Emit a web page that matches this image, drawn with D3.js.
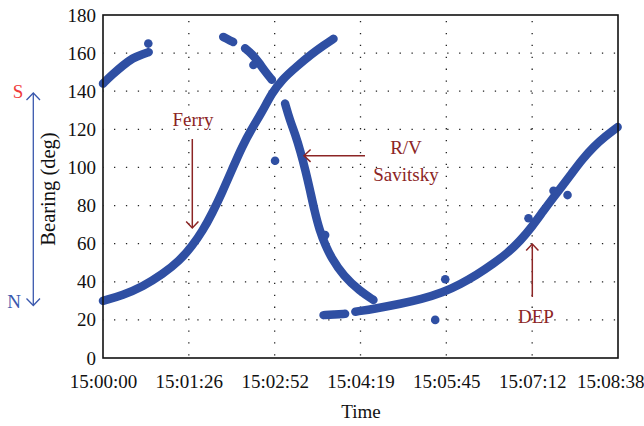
<!DOCTYPE html>
<html><head><meta charset="utf-8">
<script src="https://cdn.jsdelivr.net/npm/d3@7"></script>
<style>
html,body{margin:0;padding:0;background:#fff;}
svg{display:block;font-family:"Liberation Serif","DejaVu Serif",serif;}
</style></head>
<body><svg id="c" width="644" height="426"></svg>
<script>
// ---- data (time in seconds after 15:00:00, bearing in degrees) ----
const tickSeconds = [0, 86.4, 172.8, 259.2, 345.6, 432, 518.4];
const tickLabels = ["15:00:00","15:01:26","15:02:52","15:04:19","15:05:45","15:07:12","15:08:38"];
const yTicks = [0,20,40,60,80,100,120,140,160,180];

const ferryTrack = [[0,30],[20,33],[40,37.5],[60,44],[77,51],[90,59],[100,66.5],[110,76],[120,87],[130,99],[140,111],[150,120.5],[160,129],[170,139],[180,146],[195,153],[210,159.5],[222,164],[232,167.5]];
const earlyTrack = [[0,144],[10,149],[20,153.5],[30,157.5],[40,159.5],[46,160.5]];
const upperTrackA = [[121,168.5],[126,167.2],[131,165.8]];
const upperTrackB = [[143,162.5],[150,159.5],[157,155],[163,150.5],[170,146]];
const savitskyTrack = [[183.3,133.5],[188,125],[193.4,117.5],[199,108],[204,98],[208,89],[213,77],[218,67],[224,59],[230,52.5],[242,43],[258.8,35],[272.2,30.5]];
const lowTrack = [[222,22.5],[233,22.9],[243.7,23.2]];
const depTrack = [[254,24.3],[275,26],[300,28.5],[320,30.8],[342,34.3],[360,38.8],[376,43.5],[393,49.5],[407,55],[420,61.5],[432,69],[443,77],[453,84],[462,90],[472,97],[482,104],[494,111],[506,116.5],[518,121.2]];
const strayPoints = [[45.6,165],[151.4,153.8],[173.2,103.5],[223.6,64.5],[334.4,20],[344.5,41.3],[428.3,73.3],[453.5,87.8],[467.6,85.5]];

// ---- layout ----
const svg = d3.select("#c");
const L = 103, T = 15, R = 618, B = 358;
const x = d3.scaleLinear().domain([0, 518.4]).range([L, R]);
const y = d3.scaleLinear().domain([0, 180]).range([B, T]);
const dotColor = "#2f4fa3";
const annColor = "#8c2525";

// gridlines
const grid = svg.append("g");
yTicks.filter(v => v > 0 && v < 180).forEach(v => {
  grid.append("line").attr("x1", L).attr("x2", R).attr("y1", y(v)).attr("y2", y(v))
    .attr("stroke", "#222").attr("stroke-width", 1.3).attr("stroke-dasharray", "1.3 10.6").attr("stroke-dashoffset", -11);
});
tickSeconds.slice(1, -1).forEach(t => {
  grid.append("line").attr("x1", x(t)).attr("x2", x(t)).attr("y1", T).attr("y2", B)
    .attr("stroke", "#222").attr("stroke-width", 1.3).attr("stroke-dasharray", "1.3 10.6").attr("stroke-dashoffset", -6);
});

// data tracks
const line = d3.line().x(d => x(d[0])).y(d => y(d[1])).curve(d3.curveBasis);
const tracks = [ferryTrack, earlyTrack, upperTrackA, upperTrackB, savitskyTrack, lowTrack, depTrack];
svg.append("g").selectAll("path").data(tracks).join("path")
  .attr("d", d => line(d))
  .attr("fill", "none").attr("stroke", dotColor).attr("stroke-width", 8.5)
  .attr("stroke-linecap", "round").attr("stroke-linejoin", "round");
svg.append("g").selectAll("circle").data(strayPoints).join("circle")
  .attr("cx", d => x(d[0])).attr("cy", d => y(d[1])).attr("r", 4.3).attr("fill", dotColor);

// frame
svg.append("rect").attr("x", L).attr("y", T).attr("width", R - L).attr("height", B - T)
  .attr("fill", "none").attr("stroke", "#111").attr("stroke-width", 1.6);

// axes labels
const yAxis = d3.axisLeft(y).tickValues(yTicks).tickSize(0).tickPadding(7);
const gy = svg.append("g").attr("transform", `translate(${L},0)`).call(yAxis);
gy.select(".domain").remove();
gy.selectAll("text").attr("font-size", 19).attr("font-family", "Liberation Serif").attr("fill", "#111");

const xAxis = d3.axisBottom(x).tickValues(tickSeconds).tickFormat((d, i) => tickLabels[i]).tickSize(0).tickPadding(17);
const gx = svg.append("g").attr("transform", `translate(0,${B})`).call(xAxis);
gx.select(".domain").remove();
gx.selectAll("text").attr("font-size", 19).attr("font-family", "Liberation Serif").attr("fill", "#111");
gx.selectAll(".tick").filter((d, i) => i === tickSeconds.length - 1).select("text")
  .attr("text-anchor", "end").attr("dx", 26);

svg.append("text").attr("x", 361).attr("y", 418).attr("text-anchor", "middle")
  .attr("font-size", 19).attr("fill", "#111").text("Time");
svg.append("text").attr("transform", "translate(55,189) rotate(-90)").attr("text-anchor", "middle")
  .attr("font-size", 20.5).attr("fill", "#111").text("Bearing (deg)");

// S / N arrow
const blue = "#3a58ad";
svg.append("line").attr("x1", 33.3).attr("x2", 33.3).attr("y1", 93).attr("y2", 305).attr("stroke", blue).attr("stroke-width", 1.3);
svg.append("polyline").attr("points", "26.5,100 33.3,93 40,100").attr("fill", "none").attr("stroke", blue).attr("stroke-width", 1.3);
svg.append("polyline").attr("points", "26.5,298.5 33.3,305.5 40,298.5").attr("fill", "none").attr("stroke", blue).attr("stroke-width", 1.3);
svg.append("text").attr("x", 18).attr("y", 98).attr("text-anchor", "middle").attr("font-size", 19).attr("fill", "#f03a3a").text("S");
svg.append("text").attr("x", 14).attr("y", 308).attr("text-anchor", "middle").attr("font-size", 19).attr("fill", blue).text("N");

// annotations
function arrow(x1, y1, x2, y2) {
  svg.append("line").attr("x1", x1).attr("y1", y1).attr("x2", x2).attr("y2", y2)
    .attr("stroke", annColor).attr("stroke-width", 1.5);
  const a = Math.atan2(y2 - y1, x2 - x1), s = 9, w = 0.75;
  const p1 = [x2 - s * Math.cos(a - w), y2 - s * Math.sin(a - w)];
  const p2 = [x2 - s * Math.cos(a + w), y2 - s * Math.sin(a + w)];
  svg.append("polyline").attr("points", `${p1} ${x2},${y2} ${p2}`)
    .attr("fill", "none").attr("stroke", annColor).attr("stroke-width", 1.5);
}
arrow(192.3, 139, 192.3, 228);
svg.append("text").attr("x", 193).attr("y", 126).attr("text-anchor", "middle").attr("font-size", 19).attr("fill", annColor).text("Ferry");
arrow(365, 155.7, 304, 155.7);
svg.append("text").attr("x", 406).attr("y", 154).attr("text-anchor", "middle").attr("font-size", 19).attr("fill", annColor).text("R/V");
svg.append("text").attr("x", 406).attr("y", 181).attr("text-anchor", "middle").attr("font-size", 19).attr("fill", annColor).text("Savitsky");
arrow(532.3, 297, 532.3, 244);
svg.append("text").attr("x", 536).attr("y", 323).attr("text-anchor", "middle").attr("font-size", 19).attr("fill", annColor).text("DEP");
</script></body></html>
